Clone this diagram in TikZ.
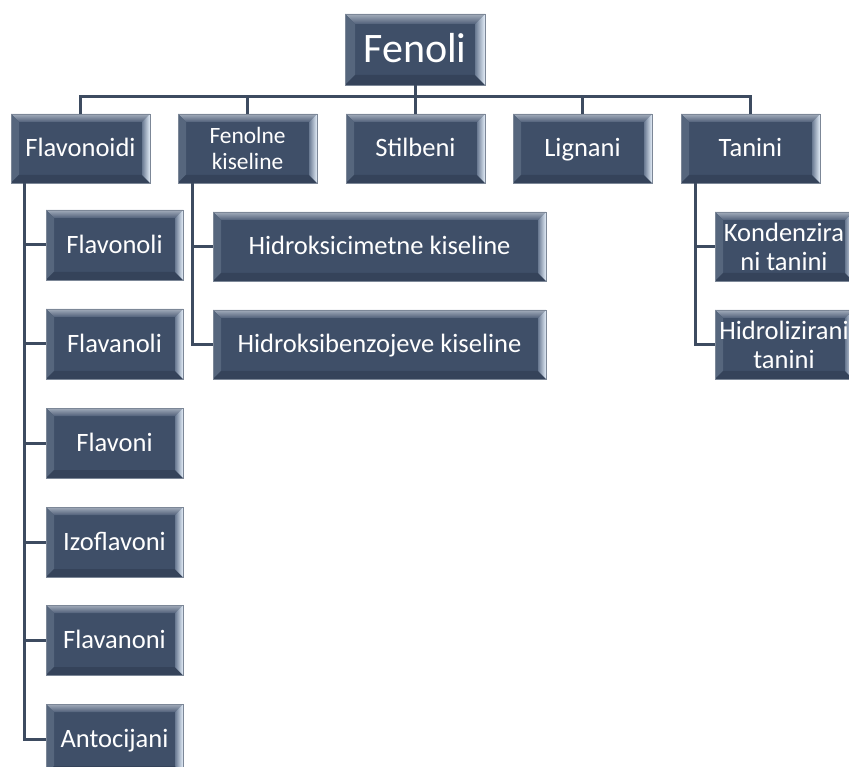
\documentclass[tikz,border=0pt]{standalone}
\usepackage{fontspec}
\setmainfont{Carlito}
\definecolor{boxbase}{HTML}{3F4F68}
\definecolor{boxedge}{HTML}{7C8797}
\definecolor{linecol}{HTML}{3D4B60}
\definecolor{bvtop}{HTML}{A3ADBB}
\definecolor{bvtopB}{HTML}{51607A}
\definecolor{bvright}{HTML}{E4EEF9}
\definecolor{bvrightB}{HTML}{6A7A92}
\definecolor{bvleft}{HTML}{56667D}
\definecolor{bvbottom}{HTML}{35435A}
\tikzset{
  bv/.store in=\bvw, bv=8pt,
  bevelbox/.style={fill=boxbase, draw=boxedge, line width=0.8pt, text=white, align=center,
    inner sep=0pt, outer sep=0pt, anchor=north west, font=\fontsize{26.5}{29}\selectfont,
    path picture={
      \path (path picture bounding box.north west) coordinate (pNW)
            (path picture bounding box.north east) coordinate (pNE)
            (path picture bounding box.south east) coordinate (pSE)
            (path picture bounding box.south west) coordinate (pSW);
      \path ([xshift=\bvw,yshift=-\bvw]pNW) coordinate (iNW)
            ([xshift=-\bvw,yshift=-\bvw]pNE) coordinate (iNE)
            ([xshift=-\bvw,yshift=\bvw]pSE) coordinate (iSE)
            ([xshift=\bvw,yshift=\bvw]pSW) coordinate (iSW);
      \shade[top color=bvtop, bottom color=bvtopB] (pNW) -- (pNE) -- (iNE) -- (iNW) -- cycle;
      \fill[bvleft] (pNW) -- (iNW) -- (iSW) -- (pSW) -- cycle;
      \fill[bvbottom] (pSW) -- (iSW) -- (iSE) -- (pSE) -- cycle;
      \shade[left color=bvrightB, right color=bvright] (pNE) -- (pSE) -- (iSE) -- (iNE) -- cycle;
    }},
  oneline/.style={text height=#1, text depth=0pt},
  oneline/.default=16.8pt,
  conn/.style={draw=linecol, line width=3pt}
}
\begin{document}
\begin{tikzpicture}[x=1pt,y=-1pt]
\clip (0,0) rectangle (849,767);
\fill[white] (0,0) rectangle (849,767);
% root
\node[bevelbox, oneline=26.5pt, bv=10pt, minimum width=140pt, minimum height=71pt, font=\fontsize{42}{46}\selectfont] (fenoli) at (345,14) {Fenoli};
% level 1
\node[bevelbox, oneline, minimum width=139pt, minimum height=69pt] (flav) at (11,114) {Flavonoidi};
\node[bevelbox, minimum width=139pt, minimum height=69pt, font=\fontsize{23.4}{26}\selectfont] (fk) at (178,114) {Fenolne\\kiseline};
\node[bevelbox, oneline, minimum width=139pt, minimum height=69pt] (stil) at (346,114) {Stilbeni};
\node[bevelbox, oneline, minimum width=139pt, minimum height=69pt] (lig) at (513,114) {Lignani};
\node[bevelbox, oneline, minimum width=139pt, minimum height=69pt] (tan) at (681,114) {Tanini};
% flavonoid children
\node[bevelbox, oneline, minimum width=137pt, minimum height=70pt] (f1) at (46,210) {Flavonoli};
\node[bevelbox, oneline, minimum width=137pt, minimum height=70pt] (f2) at (46,309) {Flavanoli};
\node[bevelbox, oneline, minimum width=137pt, minimum height=70pt] (f3) at (46,408) {Flavoni};
\node[bevelbox, oneline, minimum width=137pt, minimum height=70pt] (f4) at (46,507) {Izoflavoni};
\node[bevelbox, oneline, minimum width=137pt, minimum height=70pt] (f5) at (46,605) {Flavanoni};
\node[bevelbox, oneline, minimum width=137pt, minimum height=70pt] (f6) at (46,704) {Antocijani};
% phenolic acid children
\node[bevelbox, oneline, minimum width=333pt, minimum height=69pt] (k1) at (213,212) {Hidroksicimetne kiseline};
\node[bevelbox, oneline, minimum width=333pt, minimum height=69pt] (k2) at (213,310) {Hidroksibenzojeve kiseline};
% tannin children
\node[bevelbox, minimum width=138pt, minimum height=69pt] (t1) at (715,212) {Kondenzira\\ni tanini};
\node[bevelbox, minimum width=138pt, minimum height=69pt] (t2) at (715,310) {Hidrolizirani\\tanini};
% connectors
\coordinate (bus) at (0,97);
\coordinate (trF) at (24,0);
\coordinate (trK) at (192,0);
\coordinate (trT) at (695,0);
\draw[conn] (fenoli.south) -- (fenoli.south |- bus);
\draw[conn] (flav.north) -- (flav.north |- bus) -- (tan.north |- bus) -- (tan.north);
\draw[conn] (fk.north) -- (fk.north |- bus);
\draw[conn] (stil.north) -- (stil.north |- bus);
\draw[conn] (lig.north) -- (lig.north |- bus);
\draw[conn] (flav.south -| trF) |- (f6.west);
\foreach \c in {f1,f2,f3,f4,f5} \draw[conn] (trF |- \c.west) -- (\c.west);
\draw[conn] (fk.south -| trK) |- (k2.west);
\draw[conn] (trK |- k1.west) -- (k1.west);
\draw[conn] (tan.south -| trT) |- (t2.west);
\draw[conn] (trT |- t1.west) -- (t1.west);
\end{tikzpicture}
\end{document}
